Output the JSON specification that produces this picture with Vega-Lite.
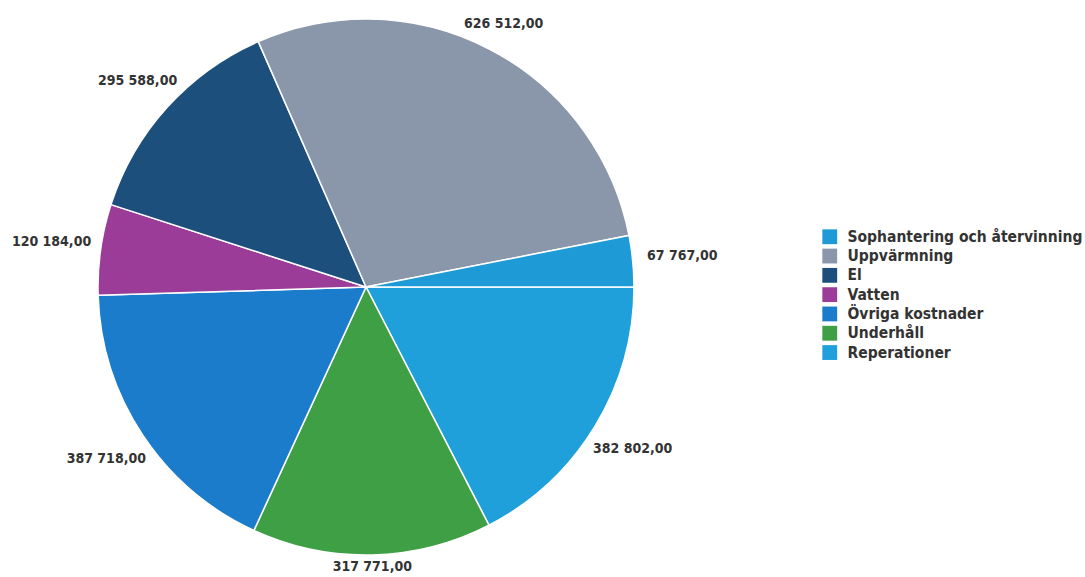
{
  "$schema": "https://vega.github.io/schema/vega-lite/v6.json",
  "width": 732,
  "height": 574,
  "autosize": {"type": "none"},
  "padding": {"left": 0, "top": 0, "right": 353, "bottom": 3},
  "background": "white",
  "config": {
    "view": {"stroke": null},
    "locale": {"number": {"decimal": ",", "thousands": " ", "grouping": [3], "currency": ["", ""]}},
    "font": "DejaVu Sans Condensed"
  },
  "data": {
    "values": [
      {"kategori": "Reperationer", "belopp": 382802, "ordning": 1},
      {"kategori": "Underhåll", "belopp": 317771, "ordning": 2},
      {"kategori": "Övriga kostnader", "belopp": 387718, "ordning": 3},
      {"kategori": "Vatten", "belopp": 120184, "ordning": 4},
      {"kategori": "El", "belopp": 295588, "ordning": 5},
      {"kategori": "Uppvärmning", "belopp": 626512, "ordning": 6},
      {"kategori": "Sophantering och återvinning", "belopp": 67767, "ordning": 7}
    ]
  },
  "encoding": {
    "theta": {"field": "belopp", "type": "quantitative", "stack": true, "scale": {"range": [1.5708, 7.854]}},
    "order": {"field": "ordning", "type": "quantitative"}
  },
  "layer": [
    {
      "mark": {"type": "arc", "outerRadius": 268, "stroke": "white", "strokeWidth": 1.5},
      "encoding": {
        "color": {
          "field": "kategori",
          "type": "nominal",
          "scale": {
            "domain": ["Sophantering och återvinning", "Uppvärmning", "El", "Vatten", "Övriga kostnader", "Underhåll", "Reperationer"],
            "range": ["#1e9ad6", "#8a97ab", "#1d4f7c", "#9b3d98", "#1b7ccb", "#3f9f45", "#1fa0db"]
          },
          "legend": {
            "orient": "none",
            "legendX": 822,
            "legendY": 229,
            "title": null,
            "padding": 0,
            "symbolType": "square",
            "symbolSize": 220,
            "symbolStrokeWidth": 0,
            "symbolOffset": 0,
            "labelOffset": 10,
            "labelFont": "DejaVu Sans Condensed",
            "labelFontWeight": "bold",
            "labelFontSize": 15.5,
            "labelColor": "#333333",
            "rowPadding": 2.3,
            "labelLimit": 400
          }
        }
      }
    },
    {
      "mark": {
        "type": "text",
        "radius": {"expr": "279 + 39*abs(sin(scale('theta', (datum.belopp_start + datum.belopp_end)/2)))"},
        "font": "DejaVu Sans Condensed",
        "fontWeight": "bold",
        "fontSize": 14,
        "color": "#333333",
        "align": "center",
        "baseline": "middle"
      },
      "encoding": {
        "text": {"field": "belopp", "type": "quantitative", "format": ",.2f"}
      }
    }
  ]
}
